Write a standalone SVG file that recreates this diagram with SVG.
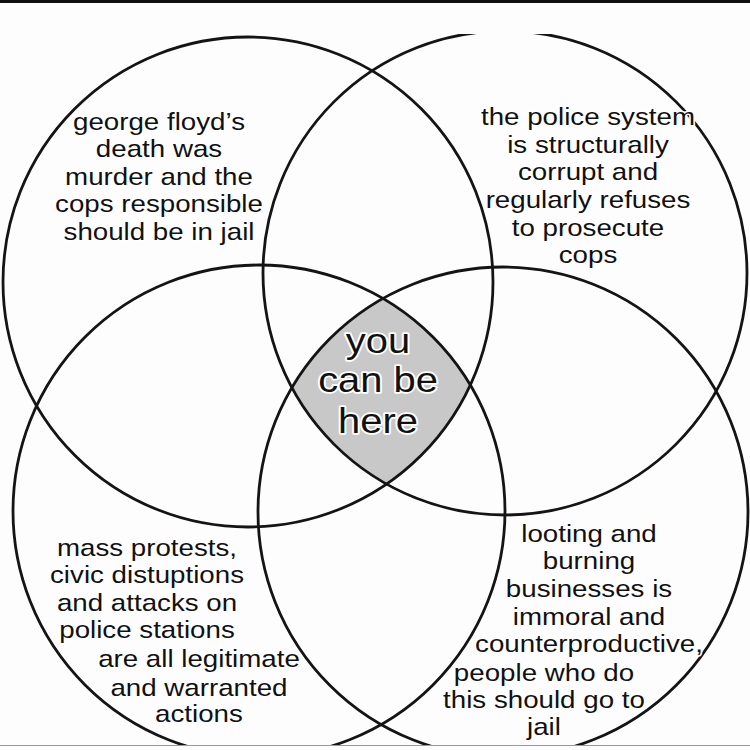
<svg xmlns="http://www.w3.org/2000/svg" width="750" height="750" viewBox="0 0 750 750">
  <style>
    .ring { fill: none; stroke: #141414; stroke-width: 2.8; }
    .lbl { font-family: "Liberation Sans", Arial, sans-serif; font-size: 24px; fill: #111111; text-anchor: middle; stroke: #ffffff; stroke-width: 3; paint-order: stroke; stroke-linejoin: round; }
    .mid { font-family: "Liberation Sans", Arial, sans-serif; font-size: 35px; fill: #111111; text-anchor: middle; stroke: #ffffff; stroke-width: 3.5; paint-order: stroke; stroke-linejoin: round; }
  </style>
  <defs>
    <clipPath id="frame"><rect x="0" y="34" width="750" height="711"/></clipPath>
    <clipPath id="cTL"><circle cx="248" cy="282" r="245"/></clipPath>
    <clipPath id="cTR"><circle cx="505" cy="273" r="242"/></clipPath>
    <clipPath id="cBL"><circle cx="259" cy="511" r="246"/></clipPath>
    <clipPath id="cBR"><circle cx="503" cy="512" r="245"/></clipPath>
  </defs>

  <rect x="0" y="0" width="750" height="750" fill="#fdfdfd"/>
  <rect x="0" y="0" width="750" height="3" fill="#111111"/>

  <!-- shared centre region -->
  <g id="overlap">
    <g clip-path="url(#cTL)">
      <g clip-path="url(#cTR)">
        <g clip-path="url(#cBL)">
          <rect x="250" y="250" width="260" height="260" fill="#c8c8c8" clip-path="url(#cBR)"/>
        </g>
      </g>
    </g>
  </g>

  <g id="circles" clip-path="url(#frame)">
    <circle id="circle-tl" class="ring" cx="248" cy="282" r="245"/>
    <circle id="circle-tr" class="ring" cx="505" cy="273" r="242"/>
    <circle id="circle-bl" class="ring" cx="259" cy="511" r="246"/>
    <circle id="circle-br" class="ring" cx="503" cy="512" r="245"/>
  </g>

  <line x1="0" y1="745.5" x2="750" y2="745.5" stroke="#9a9a9a" stroke-width="1"/>

  <g id="node-tl" transform="translate(159,0) scale(1.155,1)">
    <text class="lbl" x="0" y="130">george floyd’s</text>
    <text class="lbl" x="0" y="157.5">death was</text>
    <text class="lbl" x="0" y="185">murder and the</text>
    <text class="lbl" x="0" y="212.5">cops responsible</text>
    <text class="lbl" x="0" y="240">should be in jail</text>
  </g>

  <g id="node-tr" transform="translate(588,0) scale(1.155,1)">
    <text class="lbl" x="0" y="125.5">the police system</text>
    <text class="lbl" x="0" y="153">is structurally</text>
    <text class="lbl" x="0" y="180.5">corrupt and</text>
    <text class="lbl" x="0" y="208">regularly refuses</text>
    <text class="lbl" x="0" y="236">to prosecute</text>
    <text class="lbl" x="0" y="263">cops</text>
  </g>

  <g id="node-bl" transform="translate(147,0) scale(1.155,1)">
    <text class="lbl" x="0" y="556.5">mass protests,</text>
    <text class="lbl" x="0" y="583.5">civic distuptions</text>
    <text class="lbl" x="0" y="611.5">and attacks on</text>
    <text class="lbl" x="0" y="638.5">police stations</text>
    <text class="lbl" x="45" y="667.5">are all legitimate</text>
    <text class="lbl" x="45" y="696">and warranted</text>
    <text class="lbl" x="45" y="722.5">actions</text>
  </g>

  <g id="node-br" transform="translate(589,0) scale(1.155,1)">
    <text class="lbl" x="0" y="542">looting and</text>
    <text class="lbl" x="0" y="569">burning</text>
    <text class="lbl" x="0" y="597">businesses is</text>
    <text class="lbl" x="0" y="625">immoral and</text>
    <text class="lbl" x="0" y="652.5">counterproductive,</text>
    <text class="lbl" x="-39" y="681.5">people who do</text>
    <text class="lbl" x="-39" y="708">this should go to</text>
    <text class="lbl" x="-39" y="735">jail</text>
  </g>

  <g id="node-center" transform="translate(378,0) scale(1.14,1)">
    <text class="mid" x="0" y="353">you</text>
    <text class="mid" x="0" y="392">can be</text>
    <text class="mid" x="0" y="433">here</text>
  </g>
</svg>
